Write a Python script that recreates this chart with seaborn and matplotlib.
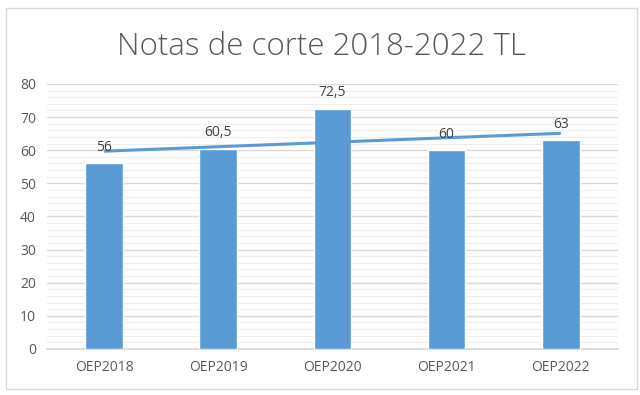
import numpy as np
import pandas as pd
import seaborn as sns
import matplotlib.pyplot as plt
from matplotlib.patches import Rectangle

categorias = ["OEP2018", "OEP2019", "OEP2020", "OEP2021", "OEP2022"]
notas = [56, 60.5, 72.5, 60, 63]
etiquetas = ["56", "60,5", "72,5", "60", "63"]

df = pd.DataFrame({"OEP": categorias, "Nota": notas})

sns.set_theme(style="white")
plt.rcParams["font.family"] = ["Open Sans", "DejaVu Sans"]

azul = "#5b9bd5"
fig = plt.figure(figsize=(6.4, 3.95), dpi=100)
ax = fig.add_axes([0.0735, 0.1165, 0.892, 0.671])

sns.barplot(data=df, x="OEP", y="Nota", color=azul, width=0.33,
            saturation=1, ax=ax, zorder=3)

# linea de tendencia lineal
xs = np.arange(len(notas))
coef = np.polyfit(xs, notas, 1)
ax.plot(xs, np.polyval(coef, xs), color=azul, lw=2.2, zorder=4,
        solid_capstyle="butt")

ax.bar_label(ax.containers[0], labels=etiquetas, padding=6,
             fontsize=10, color="#404040", zorder=5)

ax.set_xlim(-0.5, len(categorias) - 0.5)
ax.set_ylim(0, 80)
ax.set_yticks(range(0, 81, 10))
ax.set_yticks(range(0, 81, 2), minor=True)
ax.grid(axis="y", which="major", color="#d9d9d9", lw=1, zorder=0)
ax.grid(axis="y", which="minor", color="#eeeeee", lw=0.8, zorder=0)
ax.set_xlabel("")
ax.set_ylabel("")
for s in ["top", "right", "left"]:
    ax.spines[s].set_visible(False)
ax.spines["bottom"].set_color("#d9d9d9")
ax.tick_params(axis="both", which="both", length=0, labelsize=10,
               labelcolor="#595959")
ax.tick_params(axis="x", pad=8)
ax.tick_params(axis="y", pad=8)

fig.text(0.502, 0.88, "Notas de corte 2018-2022 TL", ha="center",
         va="center", fontsize=22.5, color="#595959", fontweight="light")

fig.patches.append(Rectangle((0.009, 0.015), 0.986, 0.965,
                             transform=fig.transFigure, fill=False,
                             edgecolor="#d9d9d9", lw=1))

fig.savefig("out.png", dpi=100)
